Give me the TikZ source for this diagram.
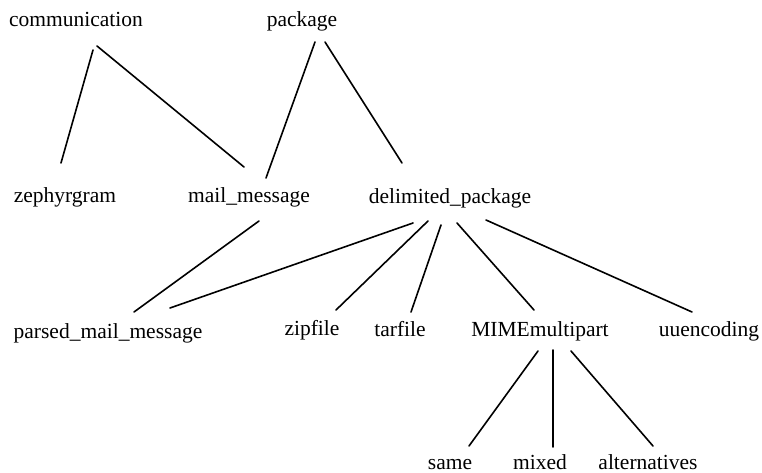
\documentclass[tikz,border=0pt]{standalone}
\usepackage{fontspec}
\setmainfont{Liberation Serif}
\usetikzlibrary{calc}
\begin{document}
\begin{tikzpicture}[x=1pt,y=-1pt,
  lbl/.style={inner sep=0pt, anchor=base, font=\fontsize{21.5}{26}\selectfont},
  edge/.style={line width=1.6pt, line cap=round}]
\useasboundingbox (0,0) rectangle (762,473);
\node[lbl] (comm) at (76,27) {communication};
\node[lbl] (pkg) at (302,27) {package};
\node[lbl] (zeph) at (65,202) {zephyrgram};
\node[lbl] (mail) at (249,202) {mail\_message};
\node[lbl] (delim) at (450,203) {delimited\_package};
\node[lbl] (parsed) at (108,338) {parsed\_mail\_message};
\node[lbl] (zip) at (312,335) {zipfile};
\node[lbl] (tar) at (400,336) {tarfile};
\node[lbl] (mime) at (540,336) {MIMEmultipart};
\node[lbl] (uu) at (709,336) {uuencoding};
\node[lbl] (same) at (450,469) {same};
\node[lbl] (mixed) at (540,469) {mixed};
\node[lbl] (alt) at (648,469) {alternatives};

\draw[edge] ($(comm.base)+(17,23)$) -- ($(zeph.base)+(-4,-39)$);
\draw[edge] ($(comm.base)+(21,19)$) -- ($(mail.base)+(-5,-35)$);
\draw[edge] ($(pkg.base)+(13,15)$) -- ($(mail.base)+(17,-24)$);
\draw[edge] ($(pkg.base)+(23,15)$) -- ($(delim.base)+(-48,-40)$);
\draw[edge] ($(mail.base)+(10,19)$) -- ($(parsed.base)+(26,-26)$);
\draw[edge] ($(delim.base)+(-37,20)$) -- ($(parsed.base)+(62,-30)$);
\draw[edge] ($(delim.base)+(-22,18)$) -- ($(zip.base)+(24,-25)$);
\draw[edge] ($(delim.base)+(-9,22)$) -- ($(tar.base)+(11,-24)$);
\draw[edge] ($(delim.base)+(7,20)$) -- ($(mime.base)+(-6,-26)$);
\draw[edge] ($(delim.base)+(36,17)$) -- ($(uu.base)+(-17,-24)$);
\draw[edge] ($(mime.base)+(-2,15)$) -- ($(same.base)+(19,-23)$);
\draw[edge] ($(mime.base)+(13,14)$) -- ($(mixed.base)+(13,-22)$);
\draw[edge] ($(mime.base)+(31,15)$) -- ($(alt.base)+(5,-23)$);
\end{tikzpicture}
\end{document}
